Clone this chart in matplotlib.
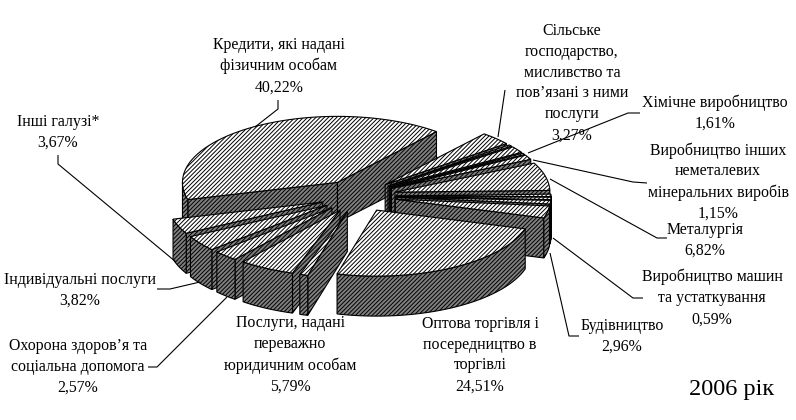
import numpy as np
import matplotlib
matplotlib.use("Agg")
import matplotlib.pyplot as plt
from matplotlib.patches import Polygon

plt.rcParams['font.family'] = ['Liberation Serif', 'DejaVu Serif']
plt.rcParams['hatch.linewidth'] = 0.7

# values in percent, clockwise; empty names are unlabelled thin slices
names = ["Сільське", "", "Хімічне", "", "Неметалеві", "Металургія", "", "Машини", "",
         "Будівництво", "Оптова", "", "Послуги", "Охорона", "Індивідуальні", "Інші", "Кредити"]
shares = [3.27, 0.35, 1.61, 0.35, 1.15, 6.82, 0.60, 0.59, 0.87,
          2.96, 24.51, 0.85, 5.79, 2.57, 3.82, 3.67, 40.22]

label_texts = [
    "Кредити, які надані\nфізичним особам\n40,22%",
    "Інші галузі*\n3,67%",
    "Індивідуальні послуги\n3,82%",
    "Охорона здоров’я та\nсоціальна допомога\n2,57%",
    "Послуги, надані\nпереважно\nюридичним особам\n5,79%",
    "Оптова торгівля і\nпосередництво в\nторгівлі\n24,51%",
    "Будівництво\n2,96%",
    "Виробництво машин\nта устаткування\n0,59%",
    "Металургія\n6,82%",
    "Виробництво інших\nнеметалевих\nмінеральних виробів\n1,15%",
    "Хімічне виробництво\n1,61%",
    "Сільське\nгосподарство,\nмисливство та\nпов’язані з ними\nпослуги\n3,27%",
]
label_xy = [(279, 66), (58, 132), (80, 290), (78, 367), (290, 355), (480, 355),
            (622, 336), (712, 298), (705, 240), (718, 182), (715, 113), (572, 83)]
leaders = [
    [(278, 100), (278, 109), (255, 127)],
    [(58, 155), (58, 164), (176, 262)],
    [(157, 289), (170, 289), (200, 282)],
    [(148, 367), (157, 367), (227, 297)],
    [(579, 336), (569, 336), (550, 253)],
    [(643, 298), (633, 298), (553, 238)],
    [(667, 238), (657, 238), (550, 179)],
    [(647, 183), (633, 182), (533, 160)],
    [(640, 113), (628, 113), (528, 153)],
    [(505, 90), (498, 137)],
]
year_label = "2006 рік"

# pie geometry in pixels
CX, CY, RX, RY, DEPTH, EXPLODE = 358, 196, 155, 66, 40, 38
START = 39.7
SIDE = "#808080"
HATCH = "////////"


def pt(a_deg, r=1.0):
    a = np.radians(a_deg)
    return np.sin(a) * RX * r, -np.cos(a) * RY * r


fig = plt.figure(figsize=(7.96, 4.2), dpi=100, facecolor="white")
ax = fig.add_axes([0, 0, 1, 1])
ax.set_xlim(0, 796)
ax.set_ylim(420, 0)
ax.axis("off")

edges = START + np.concatenate([[0], np.cumsum(shares)]) * 360.0 / sum(shares)
slices = []
for i in range(len(shares)):
    a0, a1 = edges[i], edges[i + 1]
    mid = (a0 + a1) / 2
    ox = CX + np.sin(np.radians(mid)) * EXPLODE
    oy = CY - np.cos(np.radians(mid)) * EXPLODE * RY / RX
    slices.append((oy, a0, a1, ox))
slices.sort(key=lambda s: s[0])


def side(points, z):
    ax.add_patch(Polygon(points, closed=True, facecolor=SIDE, edgecolor="black",
                         hatch=HATCH, linewidth=0.8, zorder=z))


z = 2
for oy, a0, a1, ox in slices:
    apex = np.array([ox, oy])
    p0 = apex + pt(a0)
    p1 = apex + pt(a1)
    down = np.array([0, DEPTH])
    if np.sin(np.radians(a0)) < 0:
        side([apex, p0, p0 + down, apex + down], z); z += 1
    if np.sin(np.radians(a1)) > 0:
        side([apex, p1, p1 + down, apex + down], z); z += 1
    for shift in (0, 360):
        lo, hi = max(a0, 90 + shift), min(a1, 270 + shift)
        if hi > lo:
            t = np.linspace(lo, hi, 80)
            arc = np.column_stack([apex[0] + np.sin(np.radians(t)) * RX,
                                   apex[1] - np.cos(np.radians(t)) * RY])
            side(np.vstack([arc, arc[::-1] + down]), z); z += 1
    t = np.linspace(a0, a1, 120)
    arc = np.column_stack([apex[0] + np.sin(np.radians(t)) * RX,
                           apex[1] - np.cos(np.radians(t)) * RY])
    ax.add_patch(Polygon(np.vstack([apex, arc]), closed=True, facecolor="white",
                         edgecolor="black", hatch=HATCH, linewidth=0.8, zorder=z))
    z += 1

for line in leaders:
    xs, ys = zip(*line)
    ax.plot(xs, ys, color="black", lw=0.8, zorder=500, solid_capstyle="butt")

for txt, (x, y) in zip(label_texts, label_xy):
    ax.text(x, y, txt, ha="center", va="center", ma="center", fontsize=11.4,
            linespacing=1.41, color="black", zorder=600)
ax.text(732, 389, year_label, ha="center", va="center", fontsize=17.5, color="black", zorder=600)

fig.savefig("out.png", dpi=100, facecolor="white")
